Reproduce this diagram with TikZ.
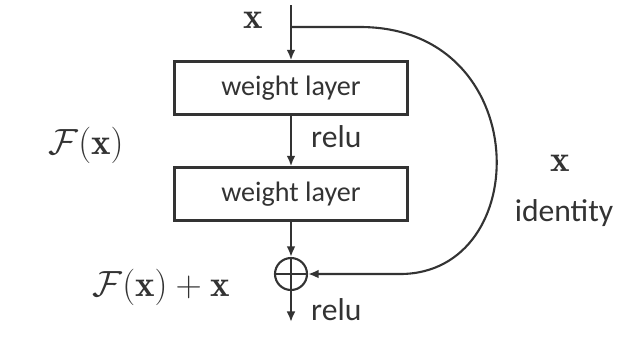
\documentclass[tikz,border=0pt]{standalone}
\usepackage{fontspec}
\setsansfont{Carlito}
\usetikzlibrary{arrows.meta}

\begin{document}
\begin{tikzpicture}[
  x=0.02cm, y=-0.02cm,
  wlayer/.style={rectangle, draw=black!80, line width=1.3pt, minimum width=4.66cm, minimum height=1.06cm, font=\sffamily\fontsize{16}{19}\selectfont, text=black!80},
  addnode/.style={circle, draw=black!80, line width=1.2pt, minimum size=0.64cm, inner sep=0pt,
    path picture={\draw[black!80, line width=0.9pt] (path picture bounding box.north) -- (path picture bounding box.south)
      (path picture bounding box.west) -- (path picture bounding box.east);}},
  flow/.style={line width=1.2pt, draw=black!80, -{Latex[length=6pt,width=5pt]}},
  tlabel/.style={font=\sffamily\fontsize{18}{21}\selectfont, text=black!80},
  mlabel/.style={font=\fontsize{21}{25}\selectfont, text=black!80}
]
  \useasboundingbox (0,0) rectangle (625,346);

  % --- BLOQUE RESIDUAL ---
  \coordinate (xin)  at (291, 5);
  \coordinate (fork) at (291, 27);
  \node[wlayer] (w1) at (291, 88)  {weight layer};
  \node[wlayer] (w2) at (291, 194) {weight layer};
  \node[addnode] (add) at (291, 274) {};
  \coordinate (out) at (291, 322);

  \draw[flow] (xin) -- (w1);
  \draw[flow] (w1) -- (w2);
  \draw[flow] (w2) -- (add);
  \draw[flow] (add) -- (out);

  % --- ATAJO IDENTIDAD ---
  \draw[flow] (fork) -- (360, 27) .. controls (535, 27) and (535, 274) .. (400, 274) -- (add.east);

  % --- ETIQUETAS ---
  \node[mlabel] (lx)   at (253, 20)  {$\mathbf{x}$};
  \node[mlabel] (lfx)  at (86, 145)  {$\mathcal{F}(\mathbf{x})$};
  \node[mlabel] (lsum) at (161, 287) {$\mathcal{F}(\mathbf{x})+\mathbf{x}$};
  \node[mlabel] (lxr)  at (560, 163) {$\mathbf{x}$};
  \node[tlabel] (lid)  at (564, 213) {identity};
  \node[tlabel, anchor=west] (r1) at (305, 137) {relu};
  \node[tlabel, anchor=west] (r2) at (305, 310) {relu};
\end{tikzpicture}
\end{document}
